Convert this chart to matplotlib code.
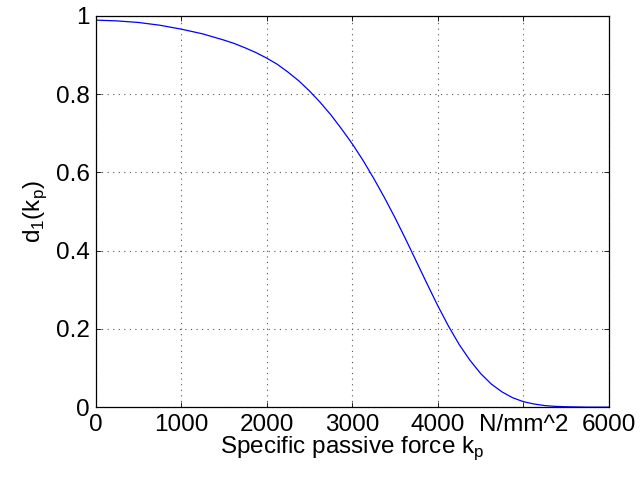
import matplotlib
matplotlib.use("Agg")
import matplotlib.pyplot as plt

plt.rcParams["font.family"] = ["Liberation Sans", "DejaVu Sans"]
plt.rcParams["mathtext.fontset"] = "custom"
plt.rcParams["mathtext.rm"] = "Liberation Sans"

# specific passive force (N/mm^2) and damage factor d1
kp = [0, 250, 500, 750, 1000, 1250, 1500, 1625, 1750, 1875, 2000, 2125,
      2250, 2375, 2500, 2625, 2750, 2875, 3000, 3125, 3250, 3375, 3500,
      3625, 3750, 3875, 4000, 4125, 4250, 4375, 4500, 4625, 4750, 4875,
      5000, 5125, 5250, 5375, 5500, 5750, 6000]
d1 = [0.989, 0.987, 0.983, 0.976, 0.966, 0.954, 0.938, 0.929, 0.918, 0.906,
      0.892, 0.876, 0.856, 0.834, 0.808, 0.779, 0.747, 0.711, 0.673, 0.631,
      0.585, 0.536, 0.484, 0.429, 0.372, 0.315, 0.259, 0.207, 0.160, 0.120,
      0.086, 0.059, 0.039, 0.024, 0.014, 0.008, 0.004, 0.002, 0.001, 0.0,
      0.0]

xticks = [0, 1000, 2000, 3000, 4000, 5000, 6000]
xticklabels = ["0", "1000", "2000", "3000", "4000", "N/mm^2", "6000"]
yticks = [0, 0.2, 0.4, 0.6, 0.8, 1.0]
yticklabels = ["0", "0.2", "0.4", "0.6", "0.8", "1"]

FS = 17.5

fig = plt.figure(figsize=(6.41, 4.79), dpi=100)
ax = fig.add_axes([0.149, 0.150, 0.801, 0.817])

ax.plot(kp, d1, color="#0000ff", lw=0.9)

ax.set_xlim(0, 6000)
ax.set_ylim(0, 1)
ax.set_xticks(xticks)
ax.set_xticklabels(xticklabels)
ax.set_yticks(yticks)
ax.set_yticklabels(yticklabels)
ax.tick_params(direction="in", length=3.6, width=0.6, top=True, right=True,
               labelsize=FS)
ax.tick_params(axis="x", pad=5)
ax.tick_params(axis="y", pad=4)
ax.grid(True, ls=(0, (1, 4)), color="#555555", lw=0.8)
for s in ax.spines.values():
    s.set_linewidth(0.9)

ax.set_xlabel(r"Specific passive force k$_\mathregular{p}$", fontsize=FS,
              labelpad=-1)
ax.set_ylabel(r"d$_\mathregular{1}$(k$_\mathregular{p}$)", fontsize=FS,
              labelpad=5)

fig.savefig("out.png", dpi=100)
